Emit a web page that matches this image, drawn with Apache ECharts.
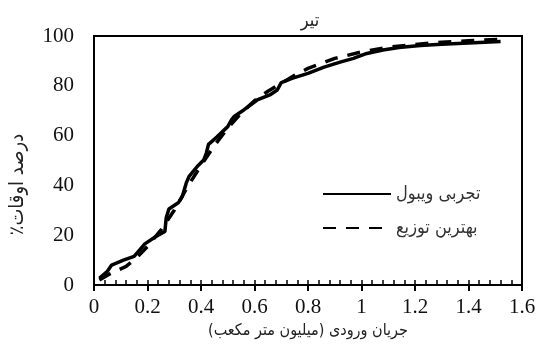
<!DOCTYPE html>
<html><head><meta charset="utf-8">
<script src="https://cdn.jsdelivr.net/npm/echarts@6/dist/echarts.min.js"></script>
<style>html,body{margin:0;padding:0;background:#fff}#c{width:541px;height:353px}</style>
</head><body><div id="c"></div>
<script>
var RLM = "\u200F";
var titleText = "تیر";
var seriesNames = ["تجربی ویبول", "بهترین توزیع"];
var xName = "جریان ورودی (میلیون متر مکعب)";
var yName = "درصد اوقات٪";

var xSolid = [0.02,0.05,0.066,0.11,0.15,0.19,0.23,0.265,0.27,0.28,0.315,0.33,0.345,0.355,0.385,0.41,0.42,0.428,0.46,0.50,0.515,0.525,0.56,0.61,0.66,0.685,0.70,0.74,0.80,0.86,0.92,0.97,1.02,1.08,1.14,1.22,1.30,1.40,1.52];
var ySolid = [2.7,5.5,8,10,11.5,16.5,19.4,21.5,27,30.5,33,35.5,41,43.5,47.5,50.2,53,56.5,59.5,63.6,66.5,67.8,70.3,74.3,76.5,78.3,81.3,83,85,87.5,89.5,91,93,94.4,95.4,96.2,96.7,97.2,97.8];

var xDash = [0.02,0.06,0.12,0.16,0.2,0.25,0.3,0.35,0.4,0.45,0.5,0.55,0.6,0.65,0.7,0.75,0.8,0.9,1.0,1.1,1.2,1.3,1.4,1.52];
var yDash = [2,4.5,7.5,11,15.5,22,30,39.5,48,56,63,69,74,77.8,81,84.2,87,91,93.6,95.5,96.6,97.5,98.1,98.7];

function pairs(xs, ys){ return xs.map(function(x,i){ return [x, ys[i]]; }); }
function rtl(s){ return RLM + s + RLM; }

var chart = echarts.init(document.getElementById('c'));
var serif = "Liberation Serif";
var fa = "'DejaVu Sans Condensed', 'DejaVu Sans'";
chart.setOption({
  animation: false,
  title: { text: rtl(titleText), left: 305, top: 7, textAlign: 'center',
    textStyle: { fontFamily: fa, fontSize: 18, fontWeight: 'normal', color: '#222' } },
  grid: { left: 94, top: 36, width: 428, height: 249, show: true, borderColor: '#000', borderWidth: 2,
    outerBoundsMode: 'none', containLabel: false },
  legend: {
    left: 317, top: 180, orient: 'vertical', itemWidth: 68, itemHeight: 14, itemGap: 16,
    itemStyle: { opacity: 0 },
    textStyle: { fontFamily: fa, fontSize: 18, color: '#333' },
    formatter: function(n){ return rtl(n); },
    data: seriesNames
  },
  xAxis: [{
    type: 'value', min: 0, max: 1.6, interval: 0.2,
    name: rtl(xName), nameLocation: 'middle', nameGap: 33,
    nameTextStyle: { fontFamily: fa, fontSize: 16, color: '#222' },
    axisLine: { show: true, lineStyle: { color: '#000', width: 2 } },
    axisTick: { show: true, inside: false, length: 6, lineStyle: { color: '#000', width: 2 } },
    axisLabel: { fontFamily: serif, fontSize: 21, color: '#111', margin: 12 },
    splitLine: { show: false }
  }, {
    type: 'value', min: 0, max: 1.6, interval: 0.04, position: 'bottom',
    axisLine: { show: false },
    axisTick: { show: true, inside: true, length: 5, lineStyle: { color: '#000', width: 1.5 } },
    axisLabel: { show: false },
    splitLine: { show: false }
  }],
  yAxis: {
    type: 'value', min: 0, max: 100, interval: 20,
    name: rtl(yName), nameLocation: 'middle', nameGap: 66,
    nameTextStyle: { fontFamily: fa, fontSize: 20, color: '#222', padding: [0, 48, 0, 0] },
    axisLine: { show: true, lineStyle: { color: '#000', width: 2 } },
    axisTick: { show: false },
    axisLabel: { fontFamily: serif, fontSize: 21, color: '#111', margin: 20 },
    splitLine: { show: false }
  },
  series: [{
    name: seriesNames[0], type: 'line', xAxisIndex: 0, symbol: 'none',
    lineStyle: { color: '#000', width: 3.5 }, itemStyle: { color: '#000' },
    data: pairs(xSolid, ySolid)
  }, {
    name: seriesNames[1], type: 'line', xAxisIndex: 0, symbol: 'none',
    lineStyle: { color: '#000', width: 3.5, type: [13, 10] }, itemStyle: { color: '#000' },
    data: pairs(xDash, yDash)
  }]
});
</script></body></html>
